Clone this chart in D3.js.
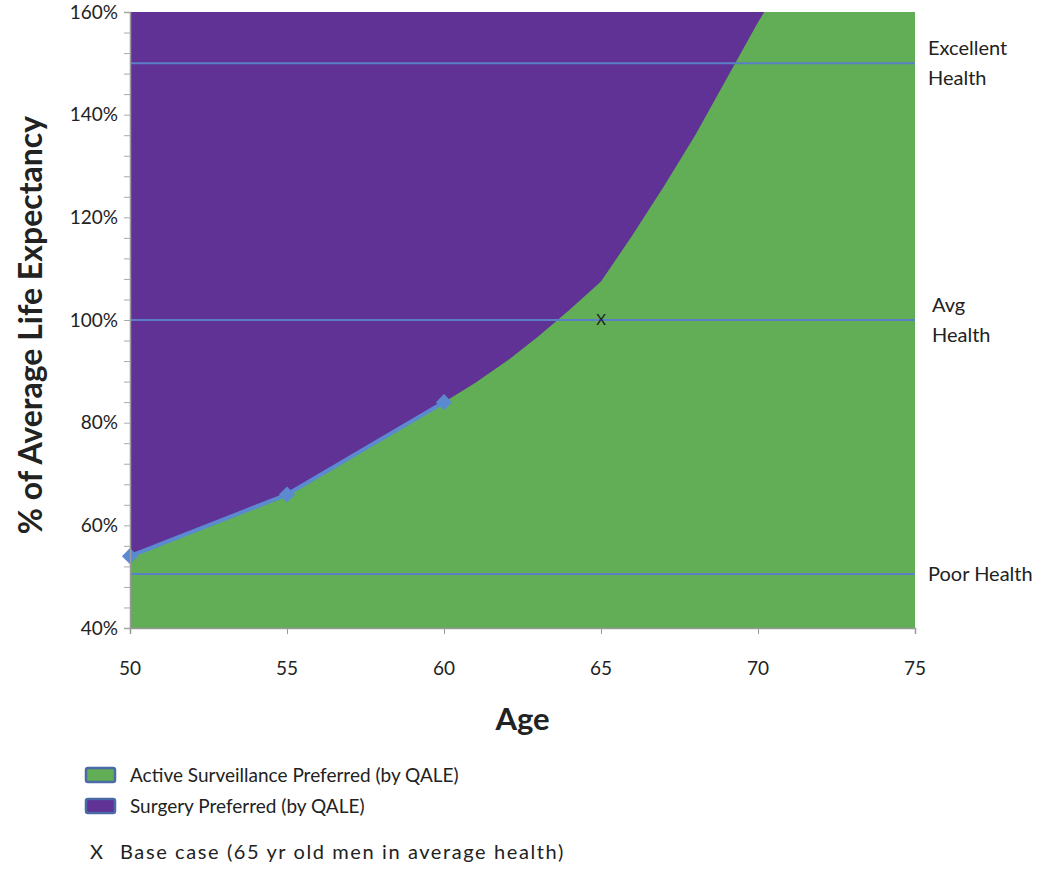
<!DOCTYPE html>
<html>
<head>
<meta charset="utf-8">
<script src="https://cdn.jsdelivr.net/npm/d3@7"></script>
<style>
  body { margin:0; background:#fff; }
  text { font-family: Lato, "Open Sans", sans-serif; fill:#222; }
</style>
</head>
<body>
<script>
// boundary between the two preferred regions (age -> % of avg life expectancy)
var ages   = [50, 55, 60, 61, 62, 63, 64, 65, 66, 67, 68, 69, 70, 70.2, 75];
var values = [54, 66, 84, 87.8, 92, 96.8, 102, 107.5, 116.5, 126, 136, 147, 158, 160, 160];

// computed points shown with markers
var markerAges   = [50, 55, 60];
var markerValues = [54, 66, 84];

var healthLines  = [150, 100, 50.5];
var healthLabels = [["Excellent", "Health"], ["Avg", "Health"], ["Poor Health"]];

var xTicks = [50, 55, 60, 65, 70, 75];
var yTicks = [40, 60, 80, 100, 120, 140, 160];

var baseCase = {age: 65, value: 100};

var legendItems = ["Active Surveillance Preferred (by QALE)", "Surgery Preferred (by QALE)"];
var legendColors = ["#62ae56", "#613296"];

var margin = {top:12, right:135, bottom:242, left:130},
    width  = 1050 - margin.left - margin.right,
    height = 870 - margin.top - margin.bottom;

var svg = d3.select("body").append("svg")
    .attr("width", 1050)
    .attr("height", 870);

var g = svg.append("g")
    .attr("transform", "translate(" + margin.left + "," + margin.top + ")");

var x = d3.scaleLinear().domain([50, 75]).range([0, width]);
var y = d3.scaleLinear().domain([40, 160]).range([height, 0]);

svg.append("defs").append("clipPath").attr("id", "plot")
  .append("rect").attr("width", width).attr("height", height);

var plot = g.append("g").attr("clip-path", "url(#plot)");

// surgery region fills the whole plot, active surveillance sits under the boundary
plot.append("rect")
    .attr("width", width)
    .attr("height", height)
    .attr("fill", legendColors[1]);

var boundary = ages.map(function(a, i){ return {age:a, value:values[i]}; });

plot.append("path")
    .datum(boundary)
    .attr("fill", legendColors[0])
    .attr("d", d3.area()
        .x(function(d){ return x(d.age); })
        .y0(height)
        .y1(function(d){ return y(d.value); }));

// health reference lines
plot.selectAll(".hline")
    .data(healthLines)
    .enter().append("line")
    .attr("class", "hline")
    .attr("x1", 0).attr("x2", width)
    .attr("y1", function(d){ return y(d); })
    .attr("y2", function(d){ return y(d); })
    .attr("stroke", "#5a7fc6")
    .attr("stroke-width", 2);

// computed points
var pts = markerAges.map(function(a, i){ return {age:a, value:markerValues[i]}; });

g.append("path")
    .datum(pts)
    .attr("fill", "none")
    .attr("stroke", "#5b8ad0")
    .attr("stroke-width", 4)
    .attr("d", d3.line()
        .x(function(d){ return x(d.age); })
        .y(function(d){ return y(d.value); }));

g.selectAll(".marker")
    .data(pts)
    .enter().append("path")
    .attr("class", "marker")
    .attr("transform", function(d){ return "translate(" + x(d.age) + "," + y(d.value) + ") rotate(45)"; })
    .attr("d", d3.symbol().type(d3.symbolSquare).size(130))
    .attr("fill", "#5b8ad0");

// base case
g.append("text")
    .attr("x", x(baseCase.age))
    .attr("y", y(baseCase.value))
    .attr("dy", "0.35em")
    .attr("text-anchor", "middle")
    .style("font-size", "15px")
    .text("X");

// axes
var yAxis = g.append("g")
    .call(d3.axisLeft(y).tickValues(d3.range(40, 161, 4)).tickSize(6).tickFormat(""));
yAxis.select(".domain").attr("stroke", "#999").attr("stroke-width", 1.5);
yAxis.selectAll(".tick line").attr("stroke", "#aaa");

g.selectAll(".ylab")
    .data(yTicks)
    .enter().append("text")
    .attr("class", "ylab")
    .attr("x", -12)
    .attr("y", function(d){ return y(d); })
    .attr("dy", "0.35em")
    .attr("text-anchor", "end")
    .style("font-size", "19px")
    .text(function(d){ return d + "%"; });

var xAxis = g.append("g")
    .attr("transform", "translate(0," + height + ")")
    .call(d3.axisBottom(x).tickValues(xTicks).tickSize(6).tickFormat(""));
xAxis.select(".domain").attr("stroke", "#999").attr("stroke-width", 1.5);
xAxis.selectAll(".tick line").attr("stroke", "#999");

g.selectAll(".xlab")
    .data(xTicks)
    .enter().append("text")
    .attr("class", "xlab")
    .attr("x", function(d){ return x(d); })
    .attr("y", height + 40)
    .attr("dy", "0.35em")
    .attr("text-anchor", "middle")
    .style("font-size", "19px")
    .text(function(d){ return d; });

// axis titles
g.append("text")
    .attr("x", width / 2)
    .attr("y", height + 102)
    .attr("text-anchor", "middle")
    .style("font-size", "31px")
    .style("font-weight", "bold")
    .text("Age");

svg.append("text")
    .attr("transform", "translate(42," + (margin.top + y(100) + 5) + ") rotate(-90)")
    .attr("text-anchor", "middle")
    .style("font-size", "32px")
    .style("font-weight", "bold")
    .text("% of Average Life Expectancy");

// right-side health labels
healthLines.forEach(function(v, i){
    var lines = healthLabels[i];
    var t = g.append("text")
        .attr("x", width + 13)
        .attr("y", y(v) - (lines.length - 1) * 15)
        .style("font-size", "20px");
    lines.forEach(function(s, j){
        t.append("tspan")
            .attr("x", width + (i == 1 ? 17 : 13))
            .attr("dy", j == 0 ? "0.35em" : 30)
            .text(s);
    });
});

// legend
var legend = svg.selectAll(".legend")
    .data(legendItems)
    .enter().append("g")
    .attr("class", "legend")
    .attr("transform", function(d, i){ return "translate(86," + (775 + i * 31) + ")"; });

legend.append("rect")
    .attr("x", 0).attr("y", -7)
    .attr("width", 29).attr("height", 14)
    .attr("rx", 2)
    .attr("fill", function(d, i){ return legendColors[i]; })
    .attr("stroke", "#4a6aa8")
    .attr("stroke-width", 2.5);

legend.append("text")
    .attr("x", 44)
    .attr("dy", "0.35em")
    .style("font-size", "19px")
    .text(function(d){ return d; });

svg.append("text")
    .attr("x", 90).attr("y", 852).attr("dy", "0.35em")
    .style("font-size", "20px")
    .text("X");
svg.append("text")
    .attr("x", 120).attr("y", 852).attr("dy", "0.35em")
    .style("font-size", "20px")
    .style("letter-spacing", "1.6px")
    .text("Base case (65 yr old men in average health)");
</script>
</body>
</html>
